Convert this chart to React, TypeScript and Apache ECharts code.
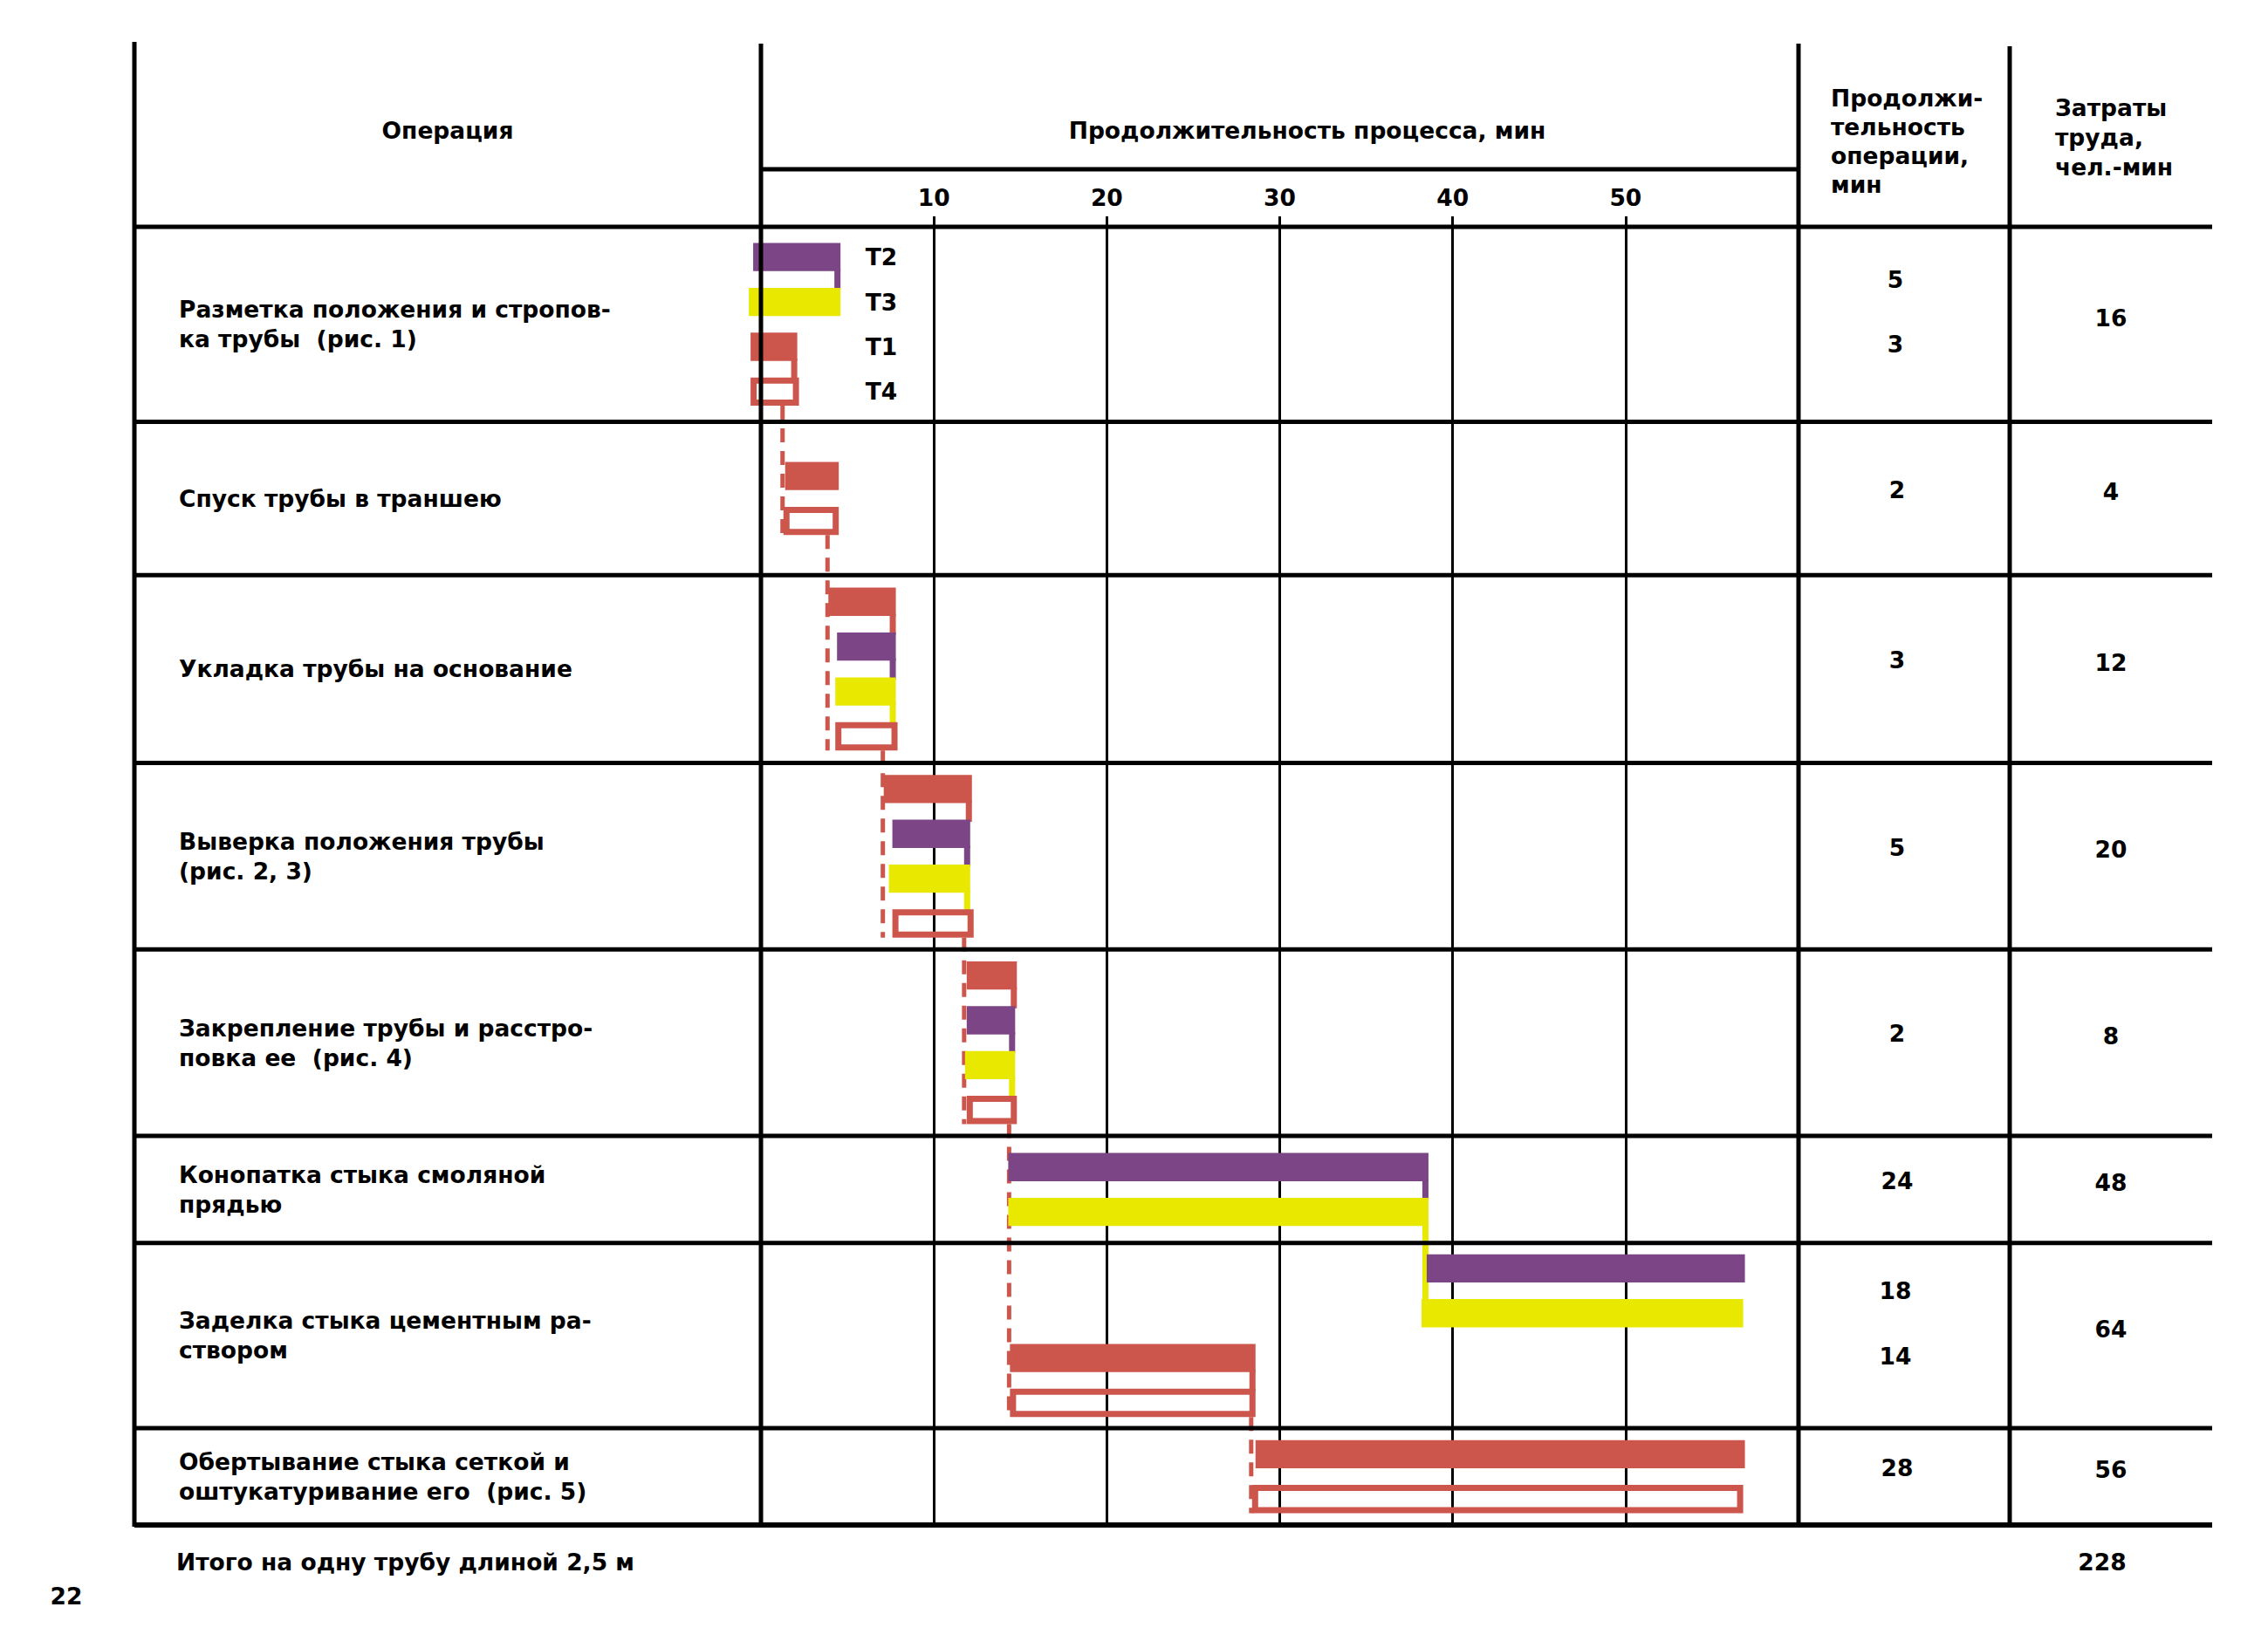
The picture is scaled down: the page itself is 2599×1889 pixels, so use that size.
import React, { useEffect, useRef } from "react";
import * as echarts from "echarts";

// ---------- data ----------
const operations: string[][] = [
  ["Разметка положения и стропов-", "ка трубы  (рис. 1)"],
  ["Спуск трубы в траншею"],
  ["Укладка трубы на основание"],
  ["Выверка положения трубы", "(рис. 2, 3)"],
  ["Закрепление трубы и расстро-", "повка ее  (рис. 4)"],
  ["Конопатка стыка смоляной", "прядью"],
  ["Заделка стыка цементным ра-", "створом"],
  ["Обертывание стыка сеткой и", "оштукатуривание его  (рис. 5)"],
];

const crewNames = ["Т1", "Т2", "Т3", "Т4"];

const crewsByOp: string[][] = [
  ["Т2", "Т3", "Т1", "Т4"],
  ["Т1", "Т4"],
  ["Т1", "Т2", "Т3", "Т4"],
  ["Т1", "Т2", "Т3", "Т4"],
  ["Т1", "Т2", "Т3", "Т4"],
  ["Т2", "Т3"],
  ["Т2", "Т3", "Т1", "Т4"],
  ["Т1", "Т4"],
];

const barStarts: number[][] = [
  [-0.45, -0.7, -0.6, -0.6],
  [1.4, 1.3],
  [3.9, 4.4, 4.3, 4.3],
  [7.1, 7.6, 7.4, 7.6],
  [11.9, 11.9, 11.8, 11.9],
  [14.3, 14.3],
  [38.5, 38.2, 14.4, 14.4],
  [28.6, 28.4],
];

const barEnds: number[][] = [
  [4.6, 4.6, 2.1, 2.2],
  [4.5, 4.5],
  [7.8, 7.8, 7.8, 7.9],
  [12.2, 12.1, 12.1, 12.3],
  [14.8, 14.7, 14.7, 14.8],
  [38.6, 38.6],
  [56.9, 56.8, 28.6, 28.6],
  [56.9, 56.8],
];

// [row, slot] -> [row, slot] short vertical joins drawn at the right end of a bar
const tailLinks: number[][] = [
  [0, 0, 0, 1], [0, 2, 0, 3],
  [2, 0, 2, 1], [2, 1, 2, 2], [2, 2, 2, 3],
  [3, 0, 3, 1], [3, 1, 3, 2], [3, 2, 3, 3],
  [4, 0, 4, 1], [4, 1, 4, 2], [4, 2, 4, 3],
  [5, 0, 5, 1], [5, 1, 6, 1],
  [6, 2, 6, 3],
];

const durations: number[][] = [[5, 3], [2], [3], [5], [2], [24], [18, 14], [28]];
const labor: number[] = [16, 4, 12, 20, 8, 48, 64, 56];
const laborTotal = 228;
const timeTicks: number[] = [10, 20, 30, 40, 50];

const headerOperation = "Операция";
const headerProcess = "Продолжительность процесса, мин";
const headerDuration = ["Продолжи-", "тельность", "операции,", "мин"];
const headerLabor = ["Затраты", "труда,", "чел.-мин"];
const footerText = "Итого на одну трубу длиной 2,5 м";
const pageNumber = "22";

// ---------- layout / style ----------
const RED = "#CD564C";
const PURPLE = "#7C4585";
const YELLOW = "#E8E800";
const crewColor: Record<string, string> = { "Т1": RED, "Т2": PURPLE, "Т3": YELLOW, "Т4": RED };

const X_LEFT = 154, X_OP = 872, X_DUR = 2061, X_LAB = 2303, X_RIGHT = 2535;
const Y_TOP = 50, Y_SUB = 194, Y_HEAD = 260, Y_BOTTOM = 1748;
const ROW_H = [4.35, 3.42, 4.19, 4.16, 4.16, 2.39, 4.13, 2.16];
const BAR_H = 0.63;
const FONT = '"DejaVu Sans", "Noto Sans", sans-serif';
const FS = 26.5;

export default function App() {
  const ref = useRef<HTMLDivElement>(null);

  useEffect(() => {
    const el = ref.current!;
    const chart = echarts.init(el, null, { renderer: "svg" });

    const rowTop: number[] = [];
    let acc = 0;
    ROW_H.forEach((h) => { rowTop.push(acc); acc += h; });
    const TOTAL = acc;
    const slotY = (r: number, k: number) =>
      rowTop[r] + ROW_H[r] / 2 + (k - (crewsByOp[r].length - 1) / 2);

    const bars: any[] = [];
    crewsByOp.forEach((crews, r) =>
      crews.forEach((c, k) => {
        bars.push([barStarts[r][k], barEnds[r][k], slotY(r, k), crewNames.indexOf(c)]);
      })
    );

    const dashes: any[] = [];
    let prev = -1;
    crewsByOp.forEach((crews, r) => {
      const k4 = crews.indexOf("Т4");
      if (crews.indexOf("Т1") < 0) return;
      if (prev >= 0) {
        const pk4 = crewsByOp[prev].indexOf("Т4");
        dashes.push([Math.min(...barStarts[r]), slotY(prev, pk4) + BAR_H / 2, slotY(r, k4) + BAR_H / 2]);
      }
      prev = r;
    });

    const tails: any[] = tailLinks.map(([ra, ka, rb, kb]) => [
      barEnds[ra][ka],
      slotY(ra, ka) + BAR_H / 2 - 0.05,
      slotY(rb, kb) - BAR_H / 2 + 0.05,
      crewNames.indexOf(crewsByOp[ra][ka]),
    ]);

    const option: any = {
      animation: false,
      backgroundColor: "#ffffff",
      grid: { left: X_OP, top: Y_HEAD, width: X_DUR - X_OP, height: Y_BOTTOM - Y_HEAD, containLabel: false },
      xAxis: {
        type: "value",
        min: 0,
        max: 60,
        interval: 10,
        position: "top",
        axisLine: { show: false },
        axisTick: { show: true, length: 12, lineStyle: { color: "#000", width: 3 } },
        axisLabel: {
          margin: 20,
          color: "#000",
          fontFamily: FONT,
          fontWeight: "bold",
          fontSize: FS,
          formatter: (v: number) => (timeTicks.indexOf(v) >= 0 ? String(v) : ""),
        },
        splitLine: { show: true, lineStyle: { color: "#000", width: 3 } },
      },
      yAxis: { type: "value", inverse: true, min: 0, max: TOTAL, show: false },
      series: [
        {
          type: "custom",
          name: "bars",
          z: 5,
          encode: { x: [0, 1], y: 2 },
          data: bars,
          renderItem: (params: any, api: any) => {
            const s = api.coord([api.value(0), api.value(2)]);
            const e = api.coord([api.value(1), api.value(2)]);
            const h = api.size([0, BAR_H])[1];
            const crew = crewNames[api.value(3)];
            if (crew === "Т4") {
              const lw = 7;
              return {
                type: "rect",
                shape: { x: s[0] + lw / 2, y: s[1] - h / 2 + lw / 2, width: e[0] - s[0] - lw, height: h - lw },
                style: { fill: "none", stroke: RED, lineWidth: lw },
              };
            }
            return {
              type: "rect",
              shape: { x: s[0], y: s[1] - h / 2, width: e[0] - s[0], height: h },
              style: { fill: crewColor[crew] },
            };
          },
        },
        {
          type: "custom",
          name: "tails",
          z: 4,
          encode: { x: 0, y: [1, 2] },
          data: tails,
          renderItem: (params: any, api: any) => {
            const a = api.coord([api.value(0), api.value(1)]);
            const b = api.coord([api.value(0), api.value(2)]);
            return {
              type: "rect",
              shape: { x: a[0] - 7, y: a[1], width: 7, height: b[1] - a[1] },
              style: { fill: crewColor[crewNames[api.value(3)]] },
            };
          },
        },
        {
          type: "custom",
          name: "links",
          z: 4,
          encode: { x: 0, y: [1, 2] },
          data: dashes,
          renderItem: (params: any, api: any) => {
            const a = api.coord([api.value(0), api.value(1)]);
            const b = api.coord([api.value(0), api.value(2)]);
            return {
              type: "line",
              shape: { x1: a[0] - 1, y1: a[1], x2: b[0] - 1, y2: b[1] },
              style: { stroke: RED, lineWidth: 5, lineDash: [16, 10] },
            };
          },
        },
      ],
    };

    chart.setOption(option);

    const py = (v: number) => chart.convertToPixel({ yAxisIndex: 0 }, v) as number;

    const graphics: any[] = [];
    const line = (x1: number, y1: number, x2: number, y2: number, w = 5) =>
      graphics.push({
        type: "line",
        z: 20,
        shape: { x1, y1, x2, y2 },
        style: { stroke: "#000", lineWidth: w },
      });
    const text = (t: string, x: number, y: number, align = "left", lh = 34) =>
      graphics.push({
        type: "text",
        z: 21,
        x,
        y,
        style: {
          text: t,
          fill: "#000",
          fontFamily: FONT,
          fontWeight: "bold",
          fontSize: FS,
          align,
          verticalAlign: "middle",
          lineHeight: lh,
        },
      });

    // frame
    line(X_LEFT, Y_TOP - 2, X_LEFT, Y_BOTTOM + 2);
    line(X_OP, Y_TOP, X_OP, Y_BOTTOM + 2);
    line(X_DUR, Y_TOP, X_DUR, Y_BOTTOM + 2);
    line(X_LAB, Y_TOP + 3, X_LAB, Y_BOTTOM + 2);
    line(X_OP, Y_SUB, X_DUR, Y_SUB);
    line(X_LEFT, Y_HEAD, X_RIGHT, Y_HEAD);
    let b = 0;
    ROW_H.forEach((h, i) => {
      b += h;
      line(X_LEFT, py(b), X_RIGHT, py(b), i === ROW_H.length - 1 ? 6 : 5);
    });

    // header
    text(headerOperation, (X_LEFT + X_OP) / 2, 149, "center");
    text(headerProcess, 1498, 149, "center");
    text(headerDuration.join("\n"), 2098, 162, "left", 33);
    text(headerLabor.join("\n"), 2355, 157, "left", 34);

    // operation names, durations, labour
    operations.forEach((lines, r) => {
      const mid = rowTop[r] + ROW_H[r] / 2;
      text(lines.join("\n"), 205, py(mid), "left", 34);
      const d = durations[r];
      if (d.length === 2) {
        text(String(d[0]), 2172, py(rowTop[r] + ROW_H[r] / 2 - 1), "center");
        text(String(d[1]), 2172, py(rowTop[r] + ROW_H[r] / 2 + 0.45), "center");
      } else {
        text(String(d[0]), 2174, py(mid - 0.2), "center");
      }
      text(String(labor[r]), 2419, py(mid - 0.15), "center");
    });

    // crew labels beside the first operation
    crewsByOp[0].forEach((c, k) => text(c, 1010, py(slotY(0, k)), "center"));

    // footer
    text(footerText, 202, 1790, "left");
    text(String(laborTotal), 2409, 1790, "center");
    text(pageNumber, 76, 1829, "center");

    chart.setOption({ graphic: { elements: graphics } });

    return () => chart.dispose();
  }, []);

  return (
    <div
      ref={ref}
      style={{ position: "fixed", left: 0, top: 0, width: "2599px", height: "1889px", background: "#fff" }}
    />
  );
}
